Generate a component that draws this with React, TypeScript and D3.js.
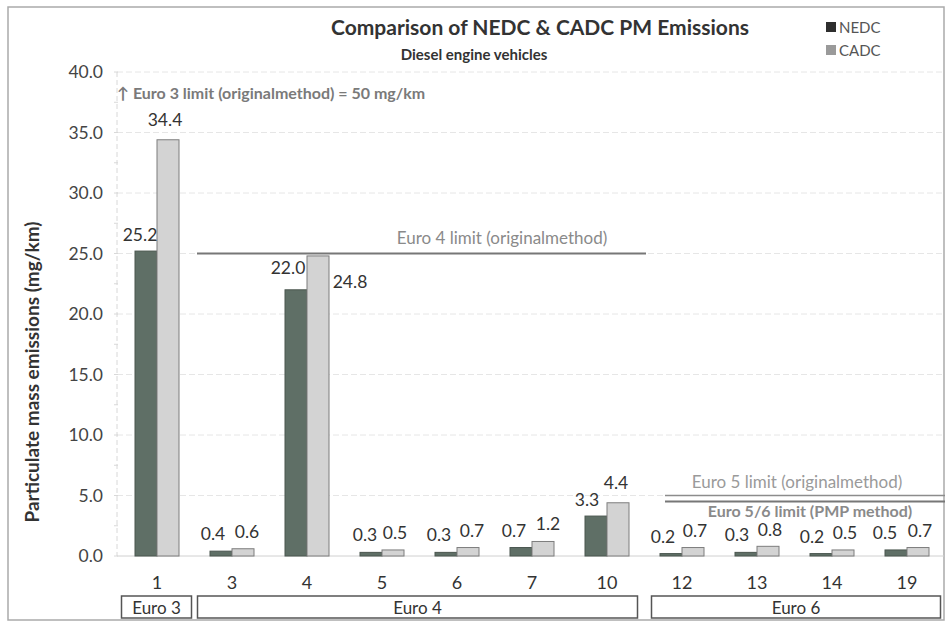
import React from "react";
import * as d3 from "d3";

const categories = ["1", "3", "4", "5", "6", "7", "10", "12", "13", "14", "19"];
const nedc = [25.2, 0.4, 22.0, 0.3, 0.3, 0.7, 3.3, 0.2, 0.3, 0.2, 0.5];
const cadc = [34.4, 0.6, 24.8, 0.5, 0.7, 1.2, 4.4, 0.7, 0.8, 0.5, 0.7];
const yTicks = [0, 5, 10, 15, 20, 25, 30, 35, 40];
const groups = [
  { name: "Euro 3", from: "1", to: "1" },
  { name: "Euro 4", from: "3", to: "10" },
  { name: "Euro 6", from: "12", to: "19" },
];
const euro4Limit = 25;
const euro5Limit = 5;
const pmpLimit = 4.5;

// label placement tweaks (pixels), per category
const nedcLabelDx = [-6, -8, -8, -6, -7, -7, -9, -8, -9, -9, -11];
const nedcLabelDy = [-10, -11, -16, -11, -11, -11, -10, -11, -11, -11, -11];
const cadcLabelDx = [-3, 4, 32, 2, 4, 5, -2, 2, 2, 2, 2];
const cadcLabelDy = [-14, -11, 32, -11, -11, -11, -14, -11, -10, -11, -11];

const W = 945;
const H = 624;
const FONT = "Lato, 'Open Sans', sans-serif";

export default function App() {
  const left = 119.5;
  const right = 944.5;
  const x = d3.scaleBand().domain(categories).range([left, right]).padding(0);
  const y = d3.scaleLinear().domain([0, 40]).range([556, 72]);
  const bw = 22;
  const step = x.step();

  return (
    <svg
      width={W}
      height={H}
      style={{ position: "absolute", left: 0, top: 0, background: "#fff" }}
      fontFamily={FONT}
    >
      <rect x={8} y={7} width={W - 9} height={613} fill="#fff" stroke="#aaa" strokeWidth={1.5} />

      {/* grid */}
      {yTicks.map((t) => (
        <line
          key={"g" + t}
          x1={117}
          x2={944}
          y1={y(t)}
          y2={y(t)}
          stroke={t === 0 ? "#d0d0d0" : "#e6e6e6"}
          strokeWidth={1}
          strokeDasharray={t === 0 ? undefined : "6 3"}
        />
      ))}
      <line x1={117} x2={117} y1={y(40)} y2={y(0)} stroke="#d8d8d8" strokeDasharray="5 3" />
      {d3.range(0, 41, 2.5).map((t) => (
        <line key={"mt" + t} x1={114} x2={118} y1={y(t)} y2={y(t)} stroke="#d8d8d8" />
      ))}

      {/* y tick labels */}
      {yTicks.map((t) => (
        <text
          key={"yl" + t}
          x={103}
          y={y(t)}
          dy="0.35em"
          textAnchor="end"
          fontSize={17.5}
          fill="#444"
        >
          {t.toFixed(1)}
        </text>
      ))}

      {/* y title */}
      <text
        transform={`translate(39,372) rotate(-90)`}
        textAnchor="middle"
        fontSize={19}
        fontWeight="bold"
        fill="#333"
      >
        Particulate mass emissions (mg/km)
      </text>

      {/* bars */}
      {categories.map((c, i) => {
        const cx = (x(c) as number) + step / 2;
        return (
          <g key={"b" + c}>
            <rect
              x={cx - bw}
              y={y(nedc[i])}
              width={bw}
              height={y(0) - y(nedc[i])}
              fill="#5f6f66"
              stroke="#4a564f"
              strokeWidth={1}
            />
            <rect
              x={cx}
              y={y(cadc[i])}
              width={bw}
              height={y(0) - y(cadc[i])}
              fill="#d3d3d3"
              stroke="#7d7d7d"
              strokeWidth={1}
            />
            <text
              x={cx - bw / 2 + nedcLabelDx[i]}
              y={y(nedc[i]) + nedcLabelDy[i]}
              textAnchor="middle"
              fontSize={17.5}
              fill="#333"
            >
              {nedc[i].toFixed(1)}
            </text>
            <text
              x={cx + bw / 2 + cadcLabelDx[i]}
              y={y(cadc[i]) + cadcLabelDy[i]}
              textAnchor="middle"
              fontSize={17.5}
              fill="#333"
            >
              {cadc[i].toFixed(1)}
            </text>
            <text x={cx} y={589} textAnchor="middle" fontSize={18} fill="#333">
              {c}
            </text>
          </g>
        );
      })}

      {/* Euro 4 limit */}
      <line x1={197} x2={646} y1={y(euro4Limit)} y2={y(euro4Limit)} stroke="#777" strokeWidth={2} />
      <text x={502} y={244} textAnchor="middle" fontSize={17} fill="#8a8a8a">
        Euro 4 limit (originalmethod)
      </text>

      {/* Euro 5 limits */}
      <line x1={665} x2={945} y1={y(euro5Limit)} y2={y(euro5Limit)} stroke="#8c8c8c" strokeWidth={1.5} />
      <line x1={665} x2={945} y1={y(pmpLimit)} y2={y(pmpLimit)} stroke="#777" strokeWidth={2} />
      <text x={797} y={488} textAnchor="middle" fontSize={17} fill="#9a9a9a">
        Euro 5 limit (originalmethod)
      </text>
      <text x={810} y={517} textAnchor="middle" fontSize={16} fontWeight="bold" fill="#8a8a8a">
        Euro 5/6 limit (PMP method)
      </text>

      {/* Euro 3 note */}
      <text x={117} y={99} fontSize={16} fontWeight="bold" fill="#7a7a7a">
        ↑ Euro 3 limit (originalmethod) = 50 mg/km
      </text>

      {/* group boxes */}
      {groups.map((g, gi) => {
        const x0 = (x(g.from) as number) + (gi === 0 ? 2 : gi === 1 ? 3 : 7);
        const x1 = (x(g.to) as number) + step - (gi === 0 ? 3 : gi === 1 ? 7 : 4);
        return (
          <g key={g.name}>
            <rect x={x0} y={596} width={x1 - x0} height={22} fill="#fff" stroke="#555" strokeWidth={1.5} />
            <text x={(x0 + x1) / 2} y={614} textAnchor="middle" fontSize={17} fill="#333">
              {g.name}
            </text>
          </g>
        );
      })}

      {/* title */}
      <text x={540} y={35} textAnchor="middle" fontSize={21} fontWeight="bold" fill="#333">
        Comparison of NEDC &amp; CADC PM Emissions
      </text>
      <text x={474} y={60} textAnchor="middle" fontSize={15} fontWeight="bold" fill="#333">
        Diesel engine vehicles
      </text>

      {/* legend */}
      <rect x={826} y={22} width={10} height={10} fill="#2e2e2e" />
      <text x={839} y={33} fontSize={15} fill="#555">NEDC</text>
      <rect x={826} y={45} width={10} height={10} fill="#9a9a9a" />
      <text x={839} y={56} fontSize={15} fill="#555">CADC</text>
    </svg>
  );
}
